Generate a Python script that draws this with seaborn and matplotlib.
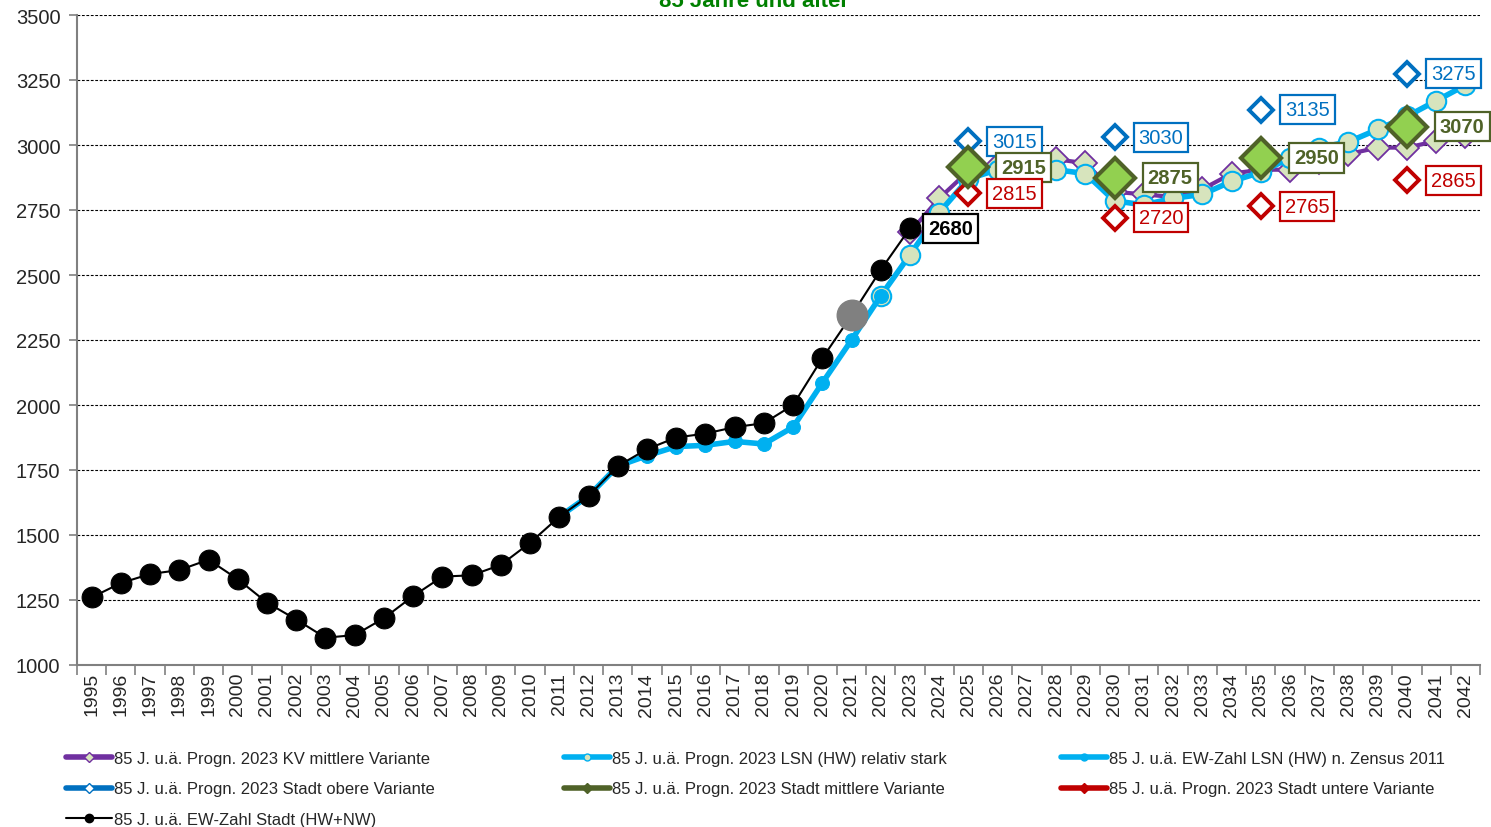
import numpy as np
import pandas as pd
import matplotlib.pyplot as plt
from matplotlib.lines import Line2D
from matplotlib.ticker import FixedLocator
import seaborn as sns

# ---- data ----
years = list(range(1995, 2043))

stadt_years = list(range(1995, 2024))
stadt_ew = [1260, 1315, 1350, 1365, 1405, 1330, 1240, 1175, 1105, 1115,
            1180, 1265, 1340, 1345, 1385, 1470, 1570, 1650, 1765, 1830,
            1875, 1890, 1915, 1930, 2000, 2180, 2345, 2520, 2680]

lsn_years = list(range(2011, 2023))
lsn_ew = [1570, 1650, 1765, 1805, 1840, 1845, 1860, 1850, 1915, 2085, 2250, 2420]

stark_years = list(range(2022, 2043))
lsn_stark = [2420, 2578, 2740, 2870, 2905, 2915, 2905, 2890, 2785, 2770,
             2795, 2810, 2860, 2895, 2950, 2990, 3012, 3060, 3110, 3170, 3230]

kv_years = list(range(2023, 2043))
kv_mittel = [2665, 2795, 2900, 2925, 2930, 2945, 2930, 2820, 2810, 2800,
             2830, 2890, 2905, 2905, 2935, 2965, 2990, 2990, 3015, 3035]

var_years = [2025, 2030, 2035, 2040]
stadt_obere = [3015, 3030, 3135, 3275]
stadt_mittel = [2915, 2875, 2950, 3070]
stadt_untere = [2815, 2720, 2765, 2865]

labels = [
    "85 J. u.ä. Progn. 2023 KV mittlere Variante",
    "85 J. u.ä. Progn. 2023 LSN (HW) relativ stark",
    "85 J. u.ä. EW-Zahl LSN (HW) n. Zensus 2011",
    "85 J. u.ä. Progn. 2023 Stadt obere Variante",
    "85 J. u.ä. Progn. 2023 Stadt mittlere Variante",
    "85 J. u.ä. Progn. 2023 Stadt untere Variante",
    "85 J. u.ä. EW-Zahl Stadt (HW+NW)",
]

# ---- colours ----
c_purple = "#7030A0"
c_cyan = "#00B0F0"
c_pale = "#D7E4BD"
c_blue = "#0070C0"
c_olive = "#4F6228"
c_green = "#92D050"
c_red = "#C00000"

sns.set_theme(style="white")
plt.rcParams["font.family"] = ["Liberation Sans", "DejaVu Sans"]

fig = plt.figure(figsize=(14.91, 8.28), dpi=100)
ax = fig.add_axes([77 / 1491, 1 - 666 / 828, (1480 - 77) / 1491, (666 - 16) / 828])

df_kv = pd.DataFrame({"Jahr": kv_years, "Wert": kv_mittel})
df_stark = pd.DataFrame({"Jahr": stark_years, "Wert": lsn_stark})
df_lsn = pd.DataFrame({"Jahr": lsn_years, "Wert": lsn_ew})
df_stadt = pd.DataFrame({"Jahr": stadt_years, "Wert": stadt_ew})
df_var = pd.DataFrame({"Jahr": var_years, "obere": stadt_obere,
                       "mittel": stadt_mittel, "untere": stadt_untere})

sns.lineplot(data=df_kv, x="Jahr", y="Wert", ax=ax, color=c_purple, linewidth=3,
             marker="D", markersize=12, markerfacecolor=c_pale,
             markeredgecolor=c_purple, markeredgewidth=1.3, legend=False, zorder=3)
sns.lineplot(data=df_stark, x="Jahr", y="Wert", ax=ax, color=c_cyan, linewidth=4,
             marker="o", markersize=14, markerfacecolor=c_pale,
             markeredgecolor=c_cyan, markeredgewidth=1.5, legend=False, zorder=4)
sns.lineplot(data=df_lsn, x="Jahr", y="Wert", ax=ax, color=c_cyan, linewidth=4,
             marker="o", markersize=10, markerfacecolor=c_cyan,
             markeredgecolor=c_cyan, legend=False, zorder=5)

ax.plot(df_var["Jahr"], df_var["obere"], linestyle="none", marker="D", markersize=12,
        markerfacecolor="white", markeredgecolor=c_blue, markeredgewidth=2.8, zorder=6)
ax.plot(df_var["Jahr"], df_var["mittel"], linestyle="none", marker="D", markersize=20,
        markerfacecolor=c_green, markeredgecolor=c_olive, markeredgewidth=3, zorder=7)
ax.plot(df_var["Jahr"], df_var["untere"], linestyle="none", marker="D", markersize=12,
        markerfacecolor="white", markeredgecolor=c_red, markeredgewidth=2.8, zorder=6)

sns.lineplot(data=df_stadt, x="Jahr", y="Wert", ax=ax, color="black", linewidth=1.5,
             marker="o", markersize=15, markerfacecolor="black",
             markeredgecolor="black", legend=False, zorder=8)
# 2021 point shown in grey
g = df_stadt[df_stadt["Jahr"] == 2021]
ax.plot(g["Jahr"], g["Wert"], linestyle="none", marker="o", markersize=22,
        color="#808080", zorder=9)

# ---- data labels ----
def box_label(x, y, txt, col, bold=False, dx=22):
    ax.annotate(txt, xy=(x, y), xytext=(dx, 0), textcoords="offset pixels",
                ha="left", va="center", fontsize=14.5, color=col,
                fontweight="bold" if bold else "normal", zorder=10,
                bbox=dict(boxstyle="square,pad=0.25", fc="white", ec=col, lw=1.6))

for x, v in zip(var_years, stadt_obere):
    box_label(x, v, str(v), c_blue, dx=24)
for x, v in zip(var_years, stadt_mittel):
    box_label(x, v, str(v), c_olive, bold=True, dx=33)
for x, v in zip(var_years, stadt_untere):
    box_label(x, v, str(v), c_red, dx=24)
box_label(stadt_years[-1], stadt_ew[-1], str(stadt_ew[-1]), "black", bold=True, dx=18)

# ---- axes ----
ax.set_xlim(years[0] - 0.5, years[-1] + 0.5)
ax.set_ylim(1000, 3500)
ax.set_yticks(np.arange(1000, 3501, 250))
ax.set_xticks(years)
ax.set_xticklabels([str(y) for y in years], rotation=90, fontsize=14)
ax.xaxis.set_minor_locator(FixedLocator(np.arange(years[0] - 0.5, years[-1] + 1, 1)))
ax.tick_params(axis="x", which="major", length=0, pad=5)
ax.tick_params(axis="x", which="minor", length=7, width=1.2, color="#808080", bottom=True)
ax.tick_params(axis="y", which="major", length=6, width=1.2, color="#808080", labelsize=14.5,
               left=True, pad=6)
ax.set_xlabel("")
ax.set_ylabel("")
ax.grid(axis="y", color="black", linestyle=(0, (2.5, 1.5)), linewidth=0.8)
ax.grid(axis="x", visible=False)
ax.set_axisbelow(True)
for s in ["top", "right"]:
    ax.spines[s].set_visible(False)
for s in ["left", "bottom"]:
    ax.spines[s].set_color("#808080")
    ax.spines[s].set_linewidth(1.5)

# title sits mostly above the canvas, as in the original export
fig.text(0.506, 0.998, "85 Jahre und älter", ha="center", va="center",
         fontsize=16, fontweight="bold", color="#008000")

# ---- legend ----
def handle(col, lw, mk, face, edge, ms):
    return Line2D([], [], color=col, linewidth=lw, marker=mk, markersize=ms,
                  markerfacecolor=face, markeredgecolor=edge, markeredgewidth=1)

handles = [
    handle(c_purple, 4, "D", c_pale, c_purple, 5),
    handle(c_cyan, 4, "o", c_pale, c_cyan, 5),
    handle(c_cyan, 4, "o", c_cyan, c_cyan, 5),
    handle(c_blue, 4, "D", "white", c_blue, 5),
    handle(c_olive, 4, "D", c_olive, c_olive, 5),
    handle(c_red, 4, "D", c_red, c_red, 5),
    handle("black", 1.5, "o", "black", "black", 6),
]
cols = [[0, 3, 6], [1, 4], [2, 5]]
col_x = [66, 564, 1061]
for idx, x0 in zip(cols, col_x):
    fig.legend([handles[i] for i in idx], [labels[i] for i in idx],
               loc="upper left", bbox_to_anchor=(x0 / 1491, 1 - 752 / 828),
               frameon=False, fontsize=12, handlelength=2.75, handletextpad=0.15,
               labelspacing=0.93, borderpad=0, borderaxespad=0)

fig.savefig("out.png", dpi=100)
